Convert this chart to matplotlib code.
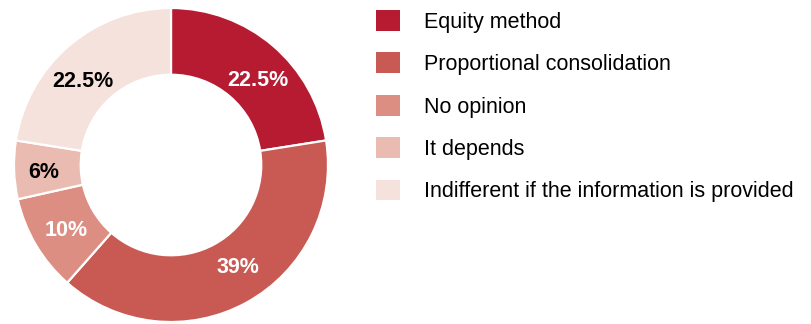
import matplotlib.pyplot as plt
from matplotlib.patches import Patch

plt.rcParams['font.family'] = ['Liberation Sans', 'DejaVu Sans']

categories = ["Equity method", "Proportional consolidation", "No opinion",
              "It depends", "Indifferent if the information is provided"]
shares = [22.5, 39, 10, 6, 22.5]
colors = ["#B61B31", "#C85A53", "#DC8E82", "#EABCB1", "#F6E2DD"]
label_colors = ["white", "white", "white", "black", "black"]
# where each percentage sits inside its wedge (donut radius = 1)
label_xy = [(0.554, 0.541), (0.427, -0.656), (-0.669, -0.420),
            (-0.809, -0.045), (-0.561, 0.535)]

W, H = 811, 324
fig = plt.figure(figsize=(W / 100, H / 100), dpi=100)

# donut centred at (171, 165) px, outer radius 157 px
cx, cy, r = 171, 165, 157
ax = fig.add_axes([(cx - r) / W, (H - cy - r) / H, 2 * r / W, 2 * r / H])
wedges, _ = ax.pie(shares, colors=colors, startangle=90, counterclock=False,
                   radius=1, wedgeprops=dict(width=0.425, edgecolor="white", linewidth=1.6))
ax.set_xlim(-1, 1)
ax.set_ylim(-1, 1)
ax.set_aspect("equal")
ax.axis("off")

for (x, y), v, c in zip(label_xy, shares, label_colors):
    ax.text(x, y, f"{v:g}%", ha="center", va="center",
            fontsize=15.5, fontweight="bold", color=c)

handles = [Patch(facecolor=c, edgecolor="none") for c in colors]
fig.legend(handles, categories, loc="upper left",
           bbox_to_anchor=(376 / W, 1 - 10 / H), frameon=False,
           fontsize=15.5, handlelength=1.1, handleheight=1.1,
           handletextpad=1.12, labelspacing=0.92, borderpad=0, borderaxespad=0)

fig.savefig("out.png", dpi=100)
